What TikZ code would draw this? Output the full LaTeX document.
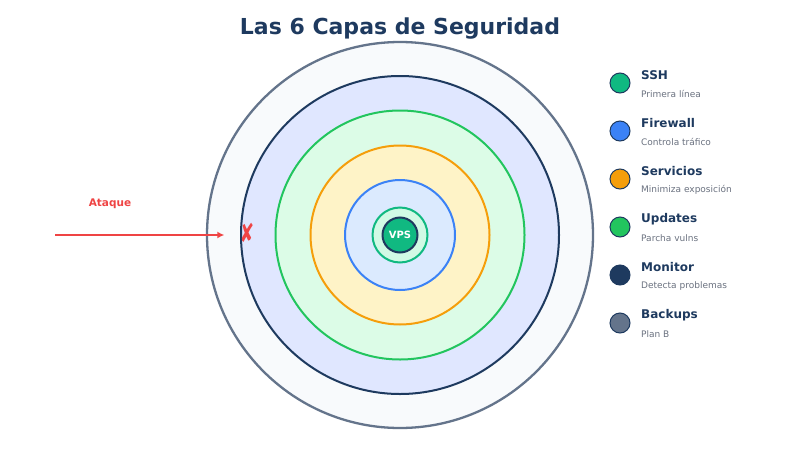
\documentclass[tikz,border=0pt]{standalone}
\usepackage{fontspec}
\usetikzlibrary{arrows.meta}
\setmainfont{DejaVu Sans}
\newfontfamily\symfont{DejaVu Sans}
\definecolor{navy}{HTML}{1E3A5F}
\definecolor{slate}{HTML}{64748B}
\definecolor{slatebg}{HTML}{F8FAFC}
\definecolor{indbg}{HTML}{E0E7FF}
\definecolor{grn}{HTML}{22C55E}
\definecolor{grnbg}{HTML}{DCFCE7}
\definecolor{amb}{HTML}{F59E0B}
\definecolor{ambbg}{HTML}{FEF3C7}
\definecolor{blu}{HTML}{3B82F6}
\definecolor{blubg}{HTML}{DBEAFE}
\definecolor{emr}{HTML}{10B981}
\definecolor{emrbg}{HTML}{D1FAE5}
\definecolor{redc}{HTML}{EF4444}
\definecolor{gray}{HTML}{6B7280}
\begin{document}
\begin{tikzpicture}[x=1pt,y=-1pt,
  ring/.style={circle,draw,line width=2pt,inner sep=0pt},
  legdot/.style={circle,draw=navy,line width=1pt,minimum size=20pt,inner sep=0pt},
  legtitle/.style={anchor=west,font=\fontsize{12}{14}\selectfont\bfseries,text=navy,inner sep=0pt},
  legsub/.style={anchor=west,font=\fontsize{9}{11}\selectfont,text=gray,inner sep=0pt}]
\useasboundingbox (0,0) rectangle (800,450);
\fill[white] (0,0) rectangle (800,450);
\node[font=\fontsize{22}{26}\selectfont\bfseries,text=navy] (title) at (400,29) {Las 6 Capas de Seguridad};
\node[ring,draw=slate,fill=slatebg,line width=2.3pt,minimum size=386pt] (r1) at (400,235) {};
\node[ring,draw=navy,fill=indbg,minimum size=318pt] (r2) at (400,235) {};
\node[ring,draw=grn,fill=grnbg,minimum size=249pt] (r3) at (400,235) {};
\node[ring,draw=amb,fill=ambbg,minimum size=179pt] (r4) at (400,235) {};
\node[ring,draw=blu,fill=blubg,minimum size=110pt] (r5) at (400,235) {};
\node[ring,draw=emr,fill=emrbg,minimum size=55pt] (r6) at (400,235) {};
\node[ring,draw=navy,fill=emr,minimum size=35pt,text=white,font=\fontsize{10}{12}\selectfont\bfseries] (core) at (400,235) {VPS};
% attack
\coordinate (a0) at (55,235);
\node[inner sep=0pt] (hit) at (225,235) {};
\draw[redc,line width=2pt,-{Latex[length=7pt,width=7pt]}] (a0) -- (hit);
\node[font=\fontsize{10.5}{12}\selectfont\bfseries,text=redc] (atk) at (110,204) {Ataque};
\node[font=\fontsize{20}{22}\selectfont\symfont,text=redc,xscale=0.85,yscale=1.3] (xm) at (247,233) {✘};
% legend
\foreach \i/\c/\t/\s in {0/emr/SSH/Primera línea,1/blu/Firewall/Controla tráfico,2/amb/Servicios/Minimiza exposición,3/grn/Updates/Parcha vulns,4/navy/Monitor/Detecta problemas,5/slate/Backups/Plan B}{
  \node[legdot,fill=\c] (d\i) at (620,83+48*\i) {};
  \node[legtitle] (t\i) at (641,75+48*\i) {\t};
  \node[legsub] (s\i) at (641,94+48*\i) {\s};
}
\end{tikzpicture}
\end{document}
